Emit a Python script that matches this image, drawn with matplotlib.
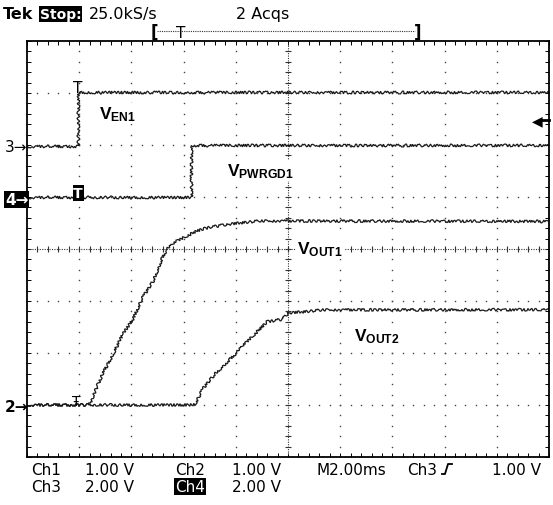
import numpy as np
import matplotlib.pyplot as plt
from matplotlib.lines import Line2D

# time in ms from the left edge of the screen (2 ms/div), levels in volts
t_en1 = [0, 1.96, 1.96, 20]
v_en1 = [-0.04, -0.04, 2.02, 2.02]

t_pwrgd = [0, 6.28, 6.28, 20]
v_pwrgd = [0.0, 0.0, 2.0, 2.0]

t_out1 = [0, 2.34, 2.46, 2.92, 3.26, 3.68, 4.06, 4.40, 4.82, 5.22, 5.36, 5.74, 6.52, 7.02, 7.78, 8.92, 20]
v_out1 = [0, 0, 0.08, 0.63, 0.94, 1.37, 1.65, 2.04, 2.37, 2.87, 3.0, 3.15, 3.35, 3.42, 3.48, 3.54, 3.53]

t_out2 = [0, 6.24, 6.44, 6.74, 7.2, 7.78, 8.16, 8.66, 9.2, 9.8, 10.0, 10.58, 11.34, 20]
v_out2 = [0, 0, 0.02, 0.31, 0.60, 0.88, 1.08, 1.33, 1.60, 1.65, 1.77, 1.79, 1.83, 1.83]

# channel settings: volts/div and ground marker position (div from centre)
ch_setup = {'ch1': (1.0, -3), 'ch2': (1.0, -3), 'ch3': (2.0, 2), 'ch4': (2.0, 1)}


def to_div(volts, ch):
    scale, offset = ch_setup[ch]
    return np.asarray(volts) / scale + offset


W, H = 553, 506


def fx(x):
    return x / W


def fy(y):
    return 1 - y / H


plt.rcParams['mathtext.fontset'] = 'custom'
plt.rcParams['mathtext.bf'] = 'Liberation Sans:bold'
plt.rcParams['mathtext.rm'] = 'Liberation Sans:bold'

fig = plt.figure(figsize=(W / 100, H / 100), dpi=100)
ax = fig.add_axes([fx(27), fy(458), (549 - 27) / W, (458 - 42) / H])
ax.set_xlim(0, 20)
ax.set_ylim(-4, 4)
for s in ax.spines.values():
    s.set_linewidth(1.3)

# border ticks every 1/5 division
ax.set_xticks(np.arange(0, 20.01, 0.4))
ax.set_yticks(np.arange(-4, 4.01, 0.2))
ax.tick_params(direction='in', length=3, width=0.7, top=True, right=True,
               labelbottom=False, labelleft=False)

# graticule: dotted lines made of small dots
dot = dict(ls='none', marker='s', ms=1.0, color='#444444', mew=0)
yy = np.arange(-3.8, 3.81, 0.2)
for gx in [2, 4, 6, 8, 12, 14, 16, 18]:
    ax.plot(np.full_like(yy, gx), yy, **dot)
xx = np.arange(0.4, 19.7, 0.4)
for gy in [-3, -2, -1, 1, 2, 3]:
    ax.plot(xx, np.full_like(xx, gy), **dot)

# centre cross-hair with ticks
ax.axvline(10, ls=(0, (1, 1.2)), lw=0.8, color='#333333')
ax.axhline(0, ls=(0, (1, 1.2)), lw=0.8, color='#333333')
ax.plot(np.full_like(yy, 10), yy, ls='none', marker='_', ms=5, mew=0.8, color='#333333')
ax.plot(xx, np.zeros_like(xx), ls='none', marker='|', ms=5, mew=0.8, color='#333333')

# traces
traces = [(t_en1, v_en1, 'ch3'), (t_pwrgd, v_pwrgd, 'ch4'),
          (t_out1, v_out1, 'ch1'), (t_out2, v_out2, 'ch2')]
for t, v, ch in traces:
    ln, = ax.plot(t, to_div(v, ch), color='#1a1a1a', lw=0.9, solid_joinstyle='miter')
    ln.set_sketch_params(scale=1.4, length=2.2, randomness=3)

# trace labels
lab = dict(fontsize=12.5, va='baseline', ha='left',
           bbox=dict(facecolor='white', edgecolor='none', pad=1))
fig.text(fx(99), fy(119), r'$\mathbf{V_{EN1}}$', **lab)
fig.text(fx(227), fy(176), r'$\mathbf{V_{PWRGD1}}$', **lab)
fig.text(fx(297), fy(254), r'$\mathbf{V_{OUT1}}$', **lab)
fig.text(fx(354), fy(341), r'$\mathbf{V_{OUT2}}$', **lab)

# trigger marks on traces
ax.text(1.96, to_div(2.02, 'ch3'), 'T', fontsize=11, ha='center', va='baseline')
ax.text(1.96, to_div(0, 'ch4'), 'T', fontsize=10, ha='center', va='baseline',
        color='white', weight='bold',
        bbox=dict(facecolor='black', edgecolor='none', pad=0.6))
ax.text(1.90, to_div(0, 'ch2'), '\u0166', fontsize=10, ha='center', va='baseline')

# ground markers on the left
fig.text(fx(5), fy(152), '3\u2192', fontsize=11, va='baseline')
fig.text(fx(5), fy(205), '4\u2192', fontsize=11, va='baseline', color='white',
         weight='bold', bbox=dict(facecolor='black', edgecolor='none', pad=0.8))
fig.text(fx(5), fy(412), '2\u2192', fontsize=11, va='baseline', weight='bold')

# trigger level marker on the right
fig.text(fx(543), fy(121), '\u25c0', fontsize=10, ha='right', va='center')
fig.add_artist(Line2D([fx(540), fx(549)], [fy(121), fy(121)], transform=fig.transFigure,
                      lw=2, color='black'))

# header
fig.text(fx(3), fy(19), 'Tek', fontsize=11.5, weight='bold', va='baseline')
fig.text(fx(40), fy(19), 'Stop:', fontsize=10, weight='bold', va='baseline', color='white',
         bbox=dict(facecolor='black', edgecolor='none', pad=0.5))
fig.text(fx(89), fy(19), '25.0kS/s', fontsize=11.5, va='baseline')
fig.text(fx(236), fy(19), '2 Acqs', fontsize=11.5, va='baseline')

# record view bracket
fig.text(fx(154), fy(38), '[', fontsize=12, va='baseline', ha='center', weight='bold')
fig.text(fx(418), fy(38), ']', fontsize=12, va='baseline', ha='center', weight='bold')
fig.add_artist(Line2D([fx(157), fx(415)], [fy(32), fy(32)], transform=fig.transFigure,
                      ls=(0, (1, 1)), lw=0.8, color='#333333'))
fig.text(fx(181), fy(38), 'T', fontsize=11, va='baseline', ha='center')

# footer readout
row1, row2 = fy(475), fy(492)
foot = dict(fontsize=11, va='baseline')
fig.text(fx(31), row1, 'Ch1', **foot)
fig.text(fx(85), row1, '1.00 V', **foot)
fig.text(fx(175), row1, 'Ch2', **foot)
fig.text(fx(232), row1, '1.00 V', **foot)
fig.text(fx(317), row1, 'M2.00ms', **foot)
fig.text(fx(407), row1, 'Ch3', **foot)
fig.text(fx(492), row1, '1.00 V', **foot)
fig.text(fx(31), row2, 'Ch3', **foot)
fig.text(fx(85), row2, '2.00 V', **foot)
fig.text(fx(175), row2, 'Ch4', color='white', bbox=dict(facecolor='black', edgecolor='none', pad=0.6), **foot)
fig.text(fx(232), row2, '2.00 V', **foot)
# rising edge symbol
fig.add_artist(Line2D([fx(442), fx(445), fx(448), fx(452)],
                      [fy(475), fy(475), fy(465), fy(465)],
                      transform=fig.transFigure, lw=1.3, color='black'))

fig.savefig('out.png', dpi=100)
